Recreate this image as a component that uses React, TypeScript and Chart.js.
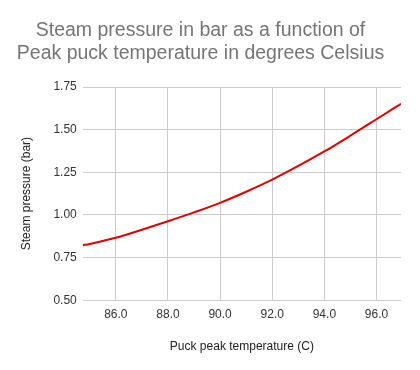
import React, { useEffect, useRef } from "react";
import { Chart, registerables } from "chart.js";

Chart.register(...registerables);

const temperatures = [84.73, 85, 86, 87, 88, 89, 90, 91, 92, 93, 94, 95, 96, 96.94];
const pressures = [0.822, 0.83, 0.866, 0.913, 0.963, 1.015, 1.071, 1.136, 1.207, 1.287, 1.372, 1.465, 1.561, 1.652];
const titleLines = ["Steam pressure in bar as a function of", "Peak puck temperature in degrees Celsius"];
const xTitle = "Puck peak temperature (C)";
const yTitle = "Steam pressure (bar)";
const xMin = 84.73;
const xMax = 96.94;
const yMin = 0.5;
const yMax = 1.75;

export default function App() {
  const ref = useRef<HTMLCanvasElement | null>(null);
  useEffect(() => {
    if (!ref.current) return;
    const font = "Arial, 'Liberation Sans', sans-serif";
    const chart = new Chart(ref.current, {
      type: "scatter",
      data: {
        datasets: [
          {
            data: temperatures.map((t, i) => ({ x: t, y: pressures[i] })),
            showLine: true,
            borderColor: "#dd0000",
            backgroundColor: "#dd0000",
            borderWidth: 2,
            pointRadius: 0,
            cubicInterpolationMode: "monotone",
          },
        ],
      },
      options: {
        animation: false,
        responsive: false,
        layout: { padding: { left: 0, right: 19, top: 0, bottom: 16 } },
        plugins: {
          legend: { display: false },
          tooltip: { enabled: false },
          title: {
            display: true,
            text: titleLines,
            color: "#757575",
            font: { family: font, size: 19.5, weight: "normal", lineHeight: 1.18 },
            padding: { top: 19, bottom: 22 },
          },
        },
        scales: {
          x: {
            type: "linear",
            min: xMin,
            max: xMax,
            border: { display: false },
            grid: { color: "#cccccc", drawTicks: false },
            ticks: {
              stepSize: 2,
              includeBounds: false,
              color: "#333333",
              padding: 7,
              font: { family: font, size: 12 },
              callback: (v: any) => Number(v).toFixed(1),
            },
            title: {
              display: true,
              text: xTitle,
              color: "#222222",
              font: { family: font, size: 12 },
              padding: { top: 11, bottom: 0 },
            },
          },
          y: {
            type: "linear",
            min: yMin,
            max: yMax,
            border: { display: false },
            grid: { color: "#cccccc", drawTicks: false },
            ticks: {
              stepSize: 0.25,
              color: "#333333",
              padding: 6,
              font: { family: font, size: 12 },
              callback: (v: any) => Number(v).toFixed(2),
            },
            title: {
              display: true,
              text: yTitle,
              color: "#222222",
              font: { family: font, size: 12 },
              padding: { top: 19, bottom: 14 },
            },
          },
        },
      },
    });
    return () => chart.destroy();
  }, []);
  return (
    <div style={{ position: "fixed", left: 0, top: 0, width: 420, height: 370, background: "#fff" }}>
      <canvas ref={ref} width={420} height={370} style={{ width: 420, height: 370 }} />
    </div>
  );
}
